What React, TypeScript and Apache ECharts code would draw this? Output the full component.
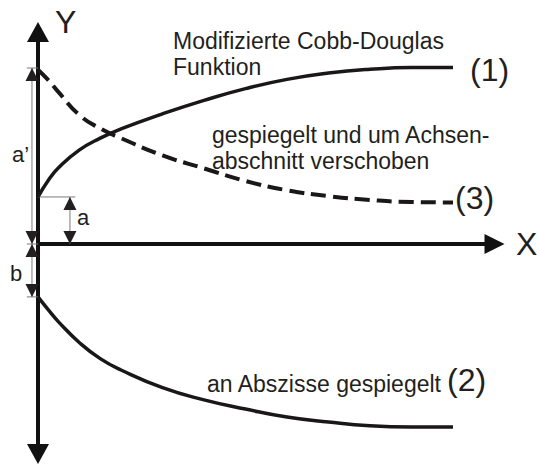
import React, { useEffect, useRef } from "react";
import * as echarts from "echarts";

// x positions (abstract units) sampled along the curves
const xValues = [0, 0.25, 0.5, 1, 1.5, 2, 3, 4, 5, 6, 7, 8, 9, 10];
// (1) modified Cobb-Douglas function (starts at a)
const curve1 = [1.12, 1.52, 1.82, 2.24, 2.52, 2.74, 3.1, 3.42, 3.7, 3.92, 4.07, 4.16, 4.2, 4.2];
// (3) mirrored and shifted by intercept (starts at a')
const curve3 = [4.15, 3.9, 3.61, 3.07, 2.75, 2.52, 2.11, 1.8, 1.5, 1.28, 1.14, 1.05, 1.0, 0.99];
// (2) mirrored at the abscissa (starts at -b)
const curve2 = [-1.26, -1.57, -1.86, -2.35, -2.73, -3.0, -3.42, -3.71, -3.93, -4.12, -4.24, -4.33, -4.36, -4.36];

// dimension arrows: [x, from, to]
const aPrimeArrow = [-0.145, 0, 4.19];
const aArrow = [0.77, 0, 1.12];
const bArrow = [-0.145, 0, -1.26];
// thin helper lines: [xFrom, xTo, y]
const helperLines = [
  [-0.27, 0, 4.19],
  [-0.27, 0, 0],
  [-0.27, 0, -1.26],
  [0, 0.9, 1.12],
];

const axisNames = ["X", "Y"];
const dimensionLabels = ["a\u2019", "a", "b"];
const curveNumbers = ["(1)", "(2)", "(3)"];
const curveTexts = [
  "Modifizierte Cobb-Douglas",
  "Funktion",
  "gespiegelt und um Achsen-",
  "abschnitt verschoben",
  "an Abszisse gespiegelt",
];

const FONT = "'Liberation Sans', Arial, Helvetica, sans-serif";
const INK = "#231f20";

export default function App() {
  const ref = useRef<HTMLDivElement>(null);

  useEffect(() => {
    if (!ref.current) return;
    const chart = echarts.init(ref.current, undefined, { renderer: "svg" });

    const pairs = (ys: number[]) => xValues.map((x, i) => [x, ys[i]]);

    const txt = (text: string, x: number, y: number, size: number) => ({
      type: "text",
      x,
      y,
      silent: true,
      style: {
        text,
        fill: INK,
        fontSize: size,
        fontFamily: FONT,
        align: "left",
        verticalAlign: "middle",
      },
    });

    const curveSeries = (name: string, ys: number[], lineStyle: any) => ({
      name,
      type: "line",
      data: pairs(ys),
      smooth: 0.5,
      showSymbol: false,
      lineStyle,
    });

    const option: any = {
      animation: false,
      backgroundColor: "#ffffff",
      grid: { left: 38, top: 31.9, width: 456.5, height: 422.1, containLabel: false },
      xAxis: {
        type: "value",
        min: 0,
        max: 11,
        axisLine: {
          show: true,
          onZero: true,
          symbol: ["none", "triangle"],
          symbolSize: [20, 20],
          lineStyle: { color: "#111111", width: 4 },
        },
        axisTick: { show: false },
        axisLabel: { show: false },
        splitLine: { show: false },
      },
      yAxis: {
        type: "value",
        min: -5,
        max: 5.05,
        axisLine: {
          show: true,
          onZero: true,
          symbol: ["triangle", "triangle"],
          symbolSize: [22, 20],
          lineStyle: { color: "#111111", width: 4 },
        },
        axisTick: { show: false },
        axisLabel: { show: false },
        splitLine: { show: false },
      },
      series: [
        curveSeries("(1)", curve1, { color: "#1a1718", width: 3.5 }),
        curveSeries("(3)", curve3, { color: "#1a1718", width: 4, type: [15, 7] }),
        curveSeries("(2)", curve2, { color: "#1a1718", width: 3.5 }),
        {
          name: "helpers",
          type: "custom",
          clip: false,
          silent: true,
          encode: { x: [0, 1], y: 2 },
          data: helperLines,
          renderItem: (_p: any, api: any) => {
            const p1 = api.coord([api.value(0), api.value(2)]);
            const p2 = api.coord([api.value(1), api.value(2)]);
            return {
              type: "line",
              shape: { x1: p1[0], y1: p1[1], x2: p2[0], y2: p2[1] },
              style: { stroke: "#7a7a7a", lineWidth: 1 },
            };
          },
        },
        {
          name: "dimensions",
          type: "custom",
          clip: false,
          silent: true,
          z: 5,
          encode: { x: 0, y: [1, 2] },
          data: [aPrimeArrow, aArrow, bArrow],
          renderItem: (_p: any, api: any) => {
            const x = api.value(0);
            const p1 = api.coord([x, api.value(1)]);
            const p2 = api.coord([x, api.value(2)]);
            const dir = p2[1] > p1[1] ? 1 : -1;
            const h = 13;
            const w = 6.5;
            return {
              type: "group",
              children: [
                {
                  type: "line",
                  shape: { x1: p1[0], y1: p1[1], x2: p2[0], y2: p2[1] },
                  style: { stroke: "#7a7a7a", lineWidth: 1 },
                },
                {
                  type: "polygon",
                  shape: {
                    points: [
                      [p1[0], p1[1]],
                      [p1[0] - w, p1[1] + dir * h],
                      [p1[0] + w, p1[1] + dir * h],
                    ],
                  },
                  style: { fill: INK },
                },
                {
                  type: "polygon",
                  shape: {
                    points: [
                      [p2[0], p2[1]],
                      [p2[0] - w, p2[1] - dir * h],
                      [p2[0] + w, p2[1] - dir * h],
                    ],
                  },
                  style: { fill: INK },
                },
              ],
            };
          },
        },
      ],
      graphic: [
        txt(axisNames[1], 55, 22, 32),
        txt(axisNames[0], 516, 244, 32),
        txt(dimensionLabels[0], 12, 154, 22),
        txt(dimensionLabels[1], 77, 217, 22),
        txt(dimensionLabels[2], 10, 273, 22),
        txt(curveTexts[0], 173, 41, 23),
        txt(curveTexts[1], 173, 67, 23),
        txt(curveTexts[2], 212, 135, 23),
        txt(curveTexts[3], 212, 161, 23),
        txt(curveTexts[4], 207, 384, 23),
        txt(curveNumbers[0], 470, 70, 32),
        txt(curveNumbers[2], 455, 198, 32),
        txt(curveNumbers[1], 447, 380, 32),
      ],
    };

    chart.setOption(option);
    return () => chart.dispose();
  }, []);

  return (
    <div
      ref={ref}
      style={{ position: "fixed", left: 0, top: 0, width: 537, height: 464, background: "#fff" }}
    />
  );
}
